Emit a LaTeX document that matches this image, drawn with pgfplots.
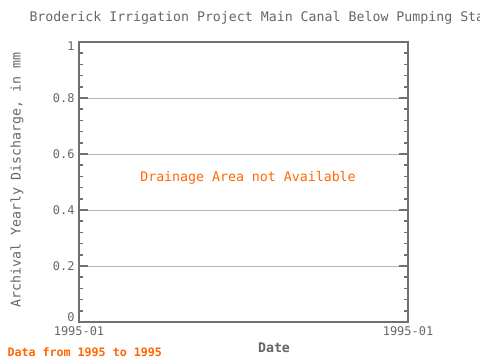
\documentclass[border=0pt]{standalone}
\usepackage{fontspec}
\setmainfont{DejaVu Sans Mono}
\setmonofont{DejaVu Sans Mono}
\usepackage{pgfplots}
\pgfplotsset{compat=1.18}
\definecolor{axgray}{HTML}{707070}
\definecolor{gridgray}{HTML}{B4B4B4}
\definecolor{txtgray}{HTML}{666666}
\definecolor{orng}{HTML}{FF6600}
\begin{document}
\begin{tikzpicture}[x=1bp,y=1bp]
\useasboundingbox (0,0) rectangle (480,360);
\begin{axis}[at={(79bp,38bp)}, anchor=south west, width=329bp, height=280bp, scale only axis,
 xmin=0, xmax=1, ymin=0, ymax=1,
 xtick={0,1}, xticklabels={1995-01,1995-01},
 ytick={0,0.2,0.4,0.6,0.8,1},
 yticklabels={0,0.2,0.4,0.6,0.8,1},
 minor y tick num=4,
 tick align=inside,
 ytick pos=both,
 x tick style={draw=none},
 y tick style={axgray, line width=1.5bp},
 major tick length=9bp,
 minor tick length=4bp,
 axis line style={axgray, line width=2bp},
 ymajorgrids,
 major grid style={gridgray, line width=0.8bp},
 tick label style={txtgray, font=\fontsize{12}{12}\selectfont},
 yticklabel style={xshift=-1bp, yshift={ifthenelse(\ticknum==0,5,ifthenelse(\ticknum==5,-4,0))}},
 xticklabel style={yshift=-1bp},
]
\addplot[draw=none, forget plot] coordinates {(0,0) (1,0)};
\end{axis}
\node[anchor=west, txtgray, font=\fontsize{13.3}{13.3}\selectfont] at (26,342) {Broderick Irrigation Project Main Canal Below Pumping Station};
\node[rotate=90, txtgray, font=\fontsize{13.3}{13.3}\selectfont] at (17,180) {Archival Yearly Discharge, in mm};
\node[txtgray, font=\fontsize{13.3}{13.3}\selectfont\bfseries] at (274,12) {Date};
\node[anchor=west, orng, font=\fontsize{11.7}{11.7}\selectfont\bfseries] at (4,8) {Data from 1995 to 1995};
\node[orng, font=\fontsize{13.3}{13.3}\selectfont] at (248,182) {Drainage Area not Available};
\end{tikzpicture}
\end{document}
